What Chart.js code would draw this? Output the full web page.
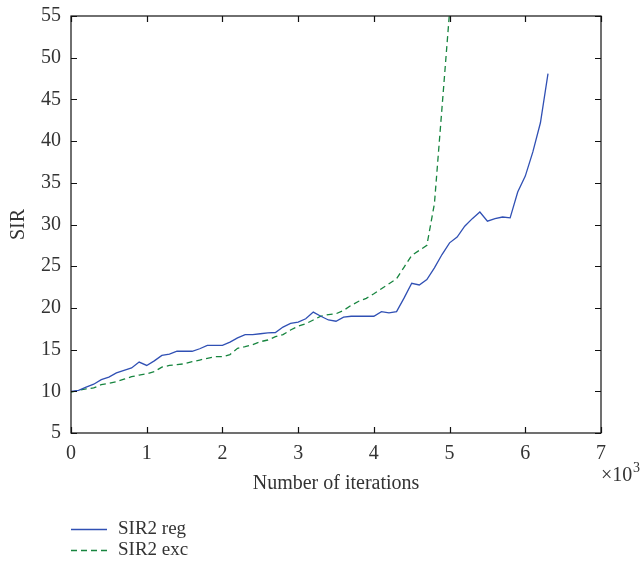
<!DOCTYPE html>
<html>
<head>
<meta charset="utf-8">
<script src="https://cdn.jsdelivr.net/npm/chart.js@4.4.0/dist/chart.umd.min.js"></script>
<style>
  html, body { margin: 0; padding: 0; background: #fff; }
</style>
</head>
<body>
<canvas id="myChart" width="644" height="563"></canvas>
<script>
// iterations, in thousands
const iterK = [0, 0.1, 0.2, 0.3, 0.4, 0.5, 0.6, 0.7, 0.8, 0.9,
               1.0, 1.1, 1.2, 1.3, 1.4, 1.5, 1.6, 1.7, 1.8, 1.9,
               2.0, 2.1, 2.2, 2.3, 2.4, 2.5, 2.6, 2.7, 2.8, 2.9,
               3.0, 3.1, 3.2, 3.3, 3.4, 3.5, 3.6, 3.7, 3.8, 3.9,
               4.0, 4.1, 4.2, 4.3, 4.4, 4.5, 4.6, 4.7, 4.8, 4.9,
               5.0, 5.1, 5.2, 5.3, 5.4, 5.5, 5.6, 5.7, 5.8, 5.9,
               6.0, 6.1, 6.2, 6.3];

const sirReg = [10.0, 10.1, 10.5, 10.85, 11.4, 11.7, 12.2, 12.5, 12.8, 13.5,
                13.1, 13.65, 14.3, 14.45, 14.8, 14.8, 14.8, 15.1, 15.5, 15.5,
                15.5, 15.9, 16.4, 16.8, 16.8, 16.9, 17.0, 17.05, 17.7, 18.15,
                18.3, 18.7, 19.5, 19.0, 18.55, 18.4, 18.9, 19.0, 19.0, 19.0,
                19.0, 19.55, 19.4, 19.55, 21.2, 22.95, 22.75, 23.4, 24.8, 26.4,
                27.8, 28.5, 29.8, 30.7, 31.5, 30.4, 30.7, 30.9, 30.8, 33.9,
                35.8, 38.7, 42.2, 48.1];

const sirExc = [9.9, 10.1, 10.3, 10.4, 10.8, 10.95, 11.15, 11.45, 11.75, 11.95,
                12.1, 12.35, 12.9, 13.1, 13.2, 13.3, 13.55, 13.75, 13.95, 14.15,
                14.15, 14.4, 15.15, 15.35, 15.6, 15.95, 16.15, 16.55, 16.8, 17.35,
                17.8, 18.1, 18.55, 19.0, 19.2, 19.3, 19.7, 20.3, 20.8, 21.15,
                21.7, 22.3, 22.9, 23.5, 24.9, 26.3, 26.9, 27.5, 32.5, 44.0,
                55.5];

const xTicks = [0, 1, 2, 3, 4, 5, 6, 7];
const yTicks = [5, 10, 15, 20, 25, 30, 35, 40, 45, 50, 55];

const FONT = "'Liberation Serif', 'DejaVu Serif', serif";
const TXT = '#333';

function pts(ys) {
  return ys.map((v, i) => ({ x: iterK[i], y: v }));
}

// box, inward ticks, x10^3 and the two-row legend
const framePlugin = {
  id: 'frame',
  afterDraw(chart) {
    const { ctx, chartArea: a, scales: { x, y } } = chart;
    ctx.save();
    ctx.strokeStyle = '#111';
    ctx.lineWidth = 1.2;
    ctx.strokeRect(a.left, a.top, a.right - a.left, a.bottom - a.top);

    ctx.beginPath();
    xTicks.forEach(v => {
      const px = Math.round(x.getPixelForValue(v)) + 0.5;
      ctx.moveTo(px, a.bottom); ctx.lineTo(px, a.bottom - 6);
      ctx.moveTo(px, a.top); ctx.lineTo(px, a.top + 6);
    });
    yTicks.forEach(v => {
      const py = Math.round(y.getPixelForValue(v)) + 0.5;
      ctx.moveTo(a.left, py); ctx.lineTo(a.left + 6, py);
      ctx.moveTo(a.right, py); ctx.lineTo(a.right - 6, py);
    });
    ctx.stroke();

    ctx.fillStyle = TXT;
    ctx.textAlign = 'left';
    ctx.textBaseline = 'alphabetic';
    ctx.font = '20px ' + FONT;
    ctx.fillText('\u00d710', a.right, 481);
    ctx.font = '14px ' + FONT;
    ctx.fillText('3', a.right + 32, 472);

    ctx.font = '19px ' + FONT;
    ctx.textBaseline = 'middle';
    chart.data.datasets.forEach((ds, i) => {
      const ly = 529.5 + i * 21;
      ctx.strokeStyle = ds.borderColor;
      ctx.lineWidth = ds.borderWidth;
      ctx.setLineDash(ds.borderDash || []);
      ctx.beginPath();
      ctx.moveTo(a.left, ly);
      ctx.lineTo(a.left + 36, ly);
      ctx.stroke();
      ctx.setLineDash([]);
      ctx.fillText(ds.label, a.left + 47, ly);
    });
    ctx.restore();
  }
};

const ctx = document.getElementById('myChart').getContext('2d');

const myChart = new Chart(ctx, {
  type: 'line',
  data: {
    datasets: [
      {
        label: 'SIR2 reg',
        data: pts(sirReg),
        borderColor: '#3050b4',
        borderWidth: 1.3,
        pointRadius: 0,
        tension: 0,
        fill: false
      },
      {
        label: 'SIR2 exc',
        data: pts(sirExc),
        borderColor: '#17853f',
        borderWidth: 1.3,
        borderDash: [6, 4],
        pointRadius: 0,
        tension: 0,
        fill: false
      }
    ]
  },
  options: {
    responsive: false,
    devicePixelRatio: 1,
    animation: false,
    layout: { padding: { left: 0, top: 16, right: 43, bottom: 67 } },
    plugins: {
      legend: { display: false },
      tooltip: { enabled: false }
    },
    scales: {
      x: {
        type: 'linear',
        min: 0,
        max: 7,
        grid: { display: false },
        border: { display: false },
        ticks: { stepSize: 1, color: TXT, padding: 1, font: { family: FONT, size: 20 } },
        title: { display: true, text: 'Number of iterations', color: TXT, padding: 0, font: { family: FONT, size: 20 } },
        afterFit(scale) { scale.height = 63; }
      },
      y: {
        min: 5,
        max: 55,
        grid: { display: false },
        border: { display: false },
        ticks: { stepSize: 5, color: TXT, padding: 2, font: { family: FONT, size: 20 } },
        title: { display: true, text: 'SIR', color: TXT, padding: { top: 7, bottom: 0 }, font: { family: FONT, size: 20 } },
        afterFit(scale) { scale.width = 71; }
      }
    }
  },
  plugins: [framePlugin]
});
</script>
</body>
</html>
